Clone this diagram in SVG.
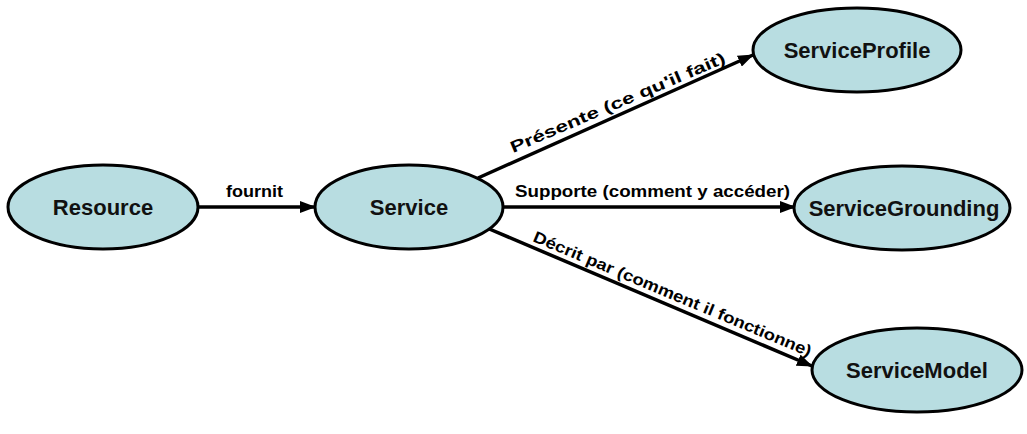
<svg xmlns="http://www.w3.org/2000/svg" width="1027" height="434" viewBox="0 0 1027 434">
<style>
.node{fill:#b8dde1;stroke:#000;stroke-width:3}
.nt{font-family:"Liberation Sans",Arial,sans-serif;font-weight:bold;font-size:22px;fill:#111;text-anchor:middle}
.edge{stroke:#000;stroke-width:3.5;fill:none}
.lt{font-family:"Liberation Sans",Arial,sans-serif;font-weight:bold;font-size:16px;fill:#000}
</style>
<defs>
<marker id="arr" markerWidth="16" markerHeight="12" refX="15" refY="6" orient="auto" markerUnits="userSpaceOnUse">
<path d="M0,0 L16,6 L0,12 Z" fill="#000"/>
</marker>
</defs>
<rect width="1027" height="434" fill="#fff"/>
<g id="connectors">
<line class="edge" x1="198" y1="207" x2="315" y2="207" marker-end="url(#arr)"/>
<line class="edge" x1="478" y1="178" x2="753" y2="55" marker-end="url(#arr)"/>
<line class="edge" x1="503" y1="207" x2="795" y2="207" marker-end="url(#arr)"/>
<line class="edge" x1="487" y1="228" x2="812" y2="366" marker-end="url(#arr)"/>
<text class="lt" x="226" y="197" textLength="57" lengthAdjust="spacingAndGlyphs">fournit</text>
<text class="lt" x="515" y="197" textLength="275" lengthAdjust="spacingAndGlyphs">Supporte (comment y accéder)</text>
<text class="lt" transform="translate(513,153) rotate(-23)" textLength="232" lengthAdjust="spacingAndGlyphs">Présente (ce qu'il fait)</text>
<text class="lt" transform="translate(532,241) rotate(22.7)" textLength="300" lengthAdjust="spacingAndGlyphs">Décrit par (comment il fonctionne)</text>
</g>
<g id="resource">
<ellipse class="node" cx="103" cy="207" rx="95" ry="42"/>
<text class="nt" x="103" y="215">Resource</text>
</g>
<g id="service">
<ellipse class="node" cx="409" cy="207" rx="94" ry="42"/>
<text class="nt" x="409" y="215">Service</text>
</g>
<g id="serviceprofile">
<ellipse class="node" cx="857" cy="50" rx="104" ry="42"/>
<text class="nt" x="857" y="58">ServiceProfile</text>
</g>
<g id="servicegrounding">
<ellipse class="node" cx="902" cy="208" rx="108" ry="42"/>
<text class="nt" x="904" y="216">ServiceGrounding</text>
</g>
<g id="servicemodel">
<ellipse class="node" cx="917" cy="370" rx="105" ry="42"/>
<text class="nt" x="917" y="378">ServiceModel</text>
</g>
</svg>
